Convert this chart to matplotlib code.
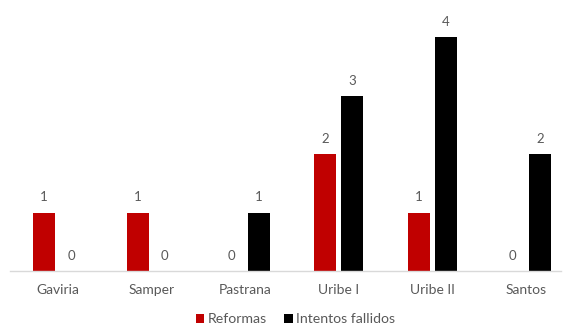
import matplotlib
matplotlib.use("Agg")
import matplotlib.pyplot as plt
import numpy as np

categories = ["Gaviria", "Samper", "Pastrana", "Uribe I", "Uribe II", "Santos"]
reformas = [1, 1, 0, 2, 1, 0]
intentos = [0, 0, 1, 3, 4, 2]
series_names = ["Reformas", "Intentos fallidos"]
colors = ["#C00000", "#000000"]

plt.rcParams['font.family'] = ['Lato', 'DejaVu Sans']
txt = "#595959"

fig = plt.figure(figsize=(5.63, 3.28), dpi=100)
W, H = 563, 328
ax = fig.add_axes([10 / W, 57 / H, 551 / W, 269 / H])

x = np.arange(len(categories))
bw = 0.235
off = 0.144
b1 = ax.bar(x - off, reformas, bw, color=colors[0], label=series_names[0])
b2 = ax.bar(x + off, intentos, bw, color=colors[1], label=series_names[1])

for bars, vals in ((b1, reformas), (b2, intentos)):
    for r, v in zip(bars, vals):
        ax.annotate(str(v), (r.get_x() + r.get_width() / 2, v), xytext=(0, 6.5),
                    textcoords="offset points", ha="center", va="bottom",
                    fontsize=9.5, color=txt)

ax.set_xlim(-0.507, 5.37)
ax.set_ylim(0, 4.6)
for s in ["top", "right", "left"]:
    ax.spines[s].set_visible(False)
ax.spines["bottom"].set_color("#D9D9D9")
ax.spines["bottom"].set_linewidth(1.0)
ax.set_yticks([])
ax.set_xticks(x)
ax.set_xticklabels(categories, fontsize=10, color=txt)
ax.tick_params(axis="x", length=0, pad=9)

leg = fig.legend(loc="lower center", bbox_to_anchor=(0.525, -0.03), ncol=2,
                 frameon=False, fontsize=10.2, handlelength=0.6, handleheight=0.6,
                 handletextpad=0.25, columnspacing=1.2)
for t in leg.get_texts():
    t.set_color(txt)

fig.savefig("out.png", dpi=100)
